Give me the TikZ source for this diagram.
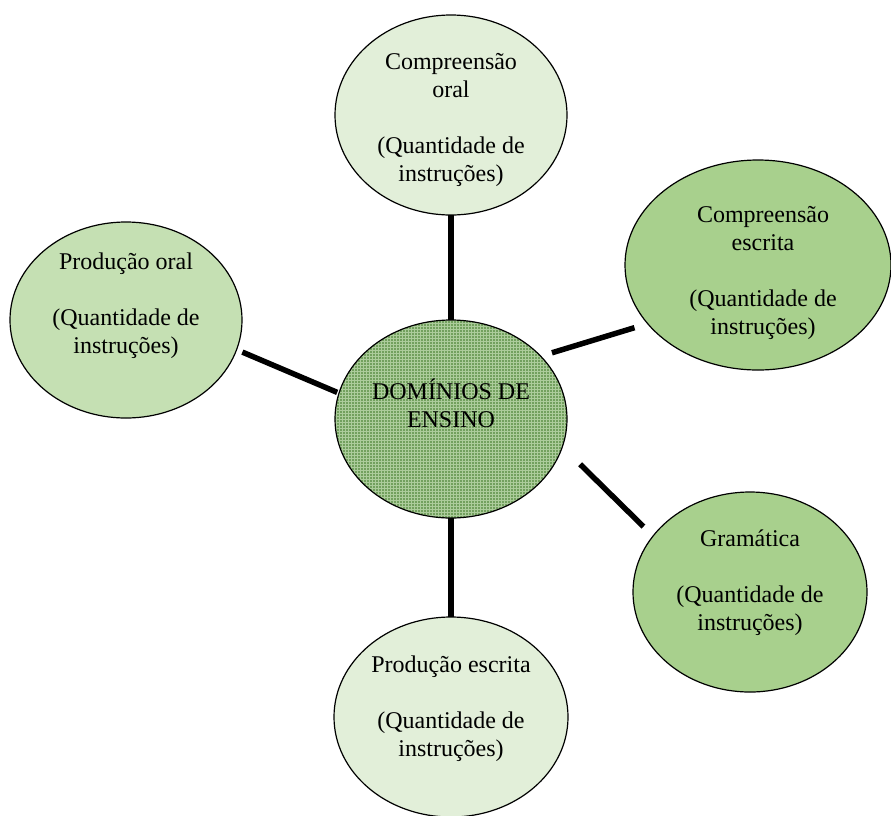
\documentclass[tikz,border=0pt]{standalone}
\usepackage{fontspec}
\setmainfont{Liberation Serif}
\usetikzlibrary{shapes.geometric,patterns}

\definecolor{palegreen}{RGB}{226,239,217}
\definecolor{softgreen}{RGB}{197,224,179}
\definecolor{midgreen}{RGB}{168,208,141}
\definecolor{hubgreen}{RGB}{114,160,94}
\definecolor{hubgrid}{RGB}{172,204,155}

\tikzset{
  bubble/.style={ellipse, draw=black, line width=1.2pt, inner sep=0pt, outer sep=0pt},
  hubbubble/.style={bubble, preaction={fill=hubgreen}, pattern=grid, pattern color=hubgrid},
  caption/.style={align=center, font=\fontsize{24}{28}\selectfont, inner sep=0pt},
  link/.style={line width=5.5pt, line cap=butt}
}

\begin{document}
\begin{tikzpicture}[x=1pt, y=-1pt]
  \useasboundingbox (0,0) rectangle (891,815);

  % ellipses
  \node[hubbubble, minimum width=232pt, minimum height=198pt] (c) at (451,419) {};
  \node[bubble, fill=palegreen, minimum width=232pt, minimum height=200pt] (co) at (451,115) {};
  \node[bubble, fill=midgreen, minimum width=266pt, minimum height=210pt] (ce) at (758,265) {};
  \node[bubble, fill=softgreen, minimum width=232pt, minimum height=196pt] (lo) at (126,320) {};
  \node[bubble, fill=midgreen, minimum width=234pt, minimum height=200pt] (gr) at (750,592) {};
  \node[bubble, fill=palegreen, minimum width=234pt, minimum height=200pt] (pe) at (451,717) {};

  % captions
  \node[caption] (c-t) at (451,403) {DOMÍNIOS DE\\ENSINO};
  \node[caption] (co-t) at (451,120) {Compreensão\\oral\\[28pt](Quantidade de\\instruções)};
  \node[caption] (ce-t) at (763,273) {Compreensão\\escrita\\[28pt](Quantidade de\\instruções)};
  \node[caption] (lo-t) at (126,306) {Produção oral\\[28pt](Quantidade de\\instruções)};
  \node[caption] (gr-t) at (750,583) {Gramática\\[28pt](Quantidade de\\instruções)};
  \node[caption] (pe-t) at (451,709) {Produção escrita\\[28pt](Quantidade de\\instruções)};

  % connectors
  \draw[link] (co.south) -- (c.north);
  \draw[link] (c.south) -- (pe.north);
  \draw[link, shorten <=11.8pt, shorten >=13.8pt] (c.35.7) -- (ce.208.4);
  \draw[link, shorten <=6.3pt, shorten >=2pt] (lo.-15.5) -- (c.167.3);
  \draw[link, shorten <=25pt, shorten >=13.5pt] (c.-14.4) -- (gr.150.3);
\end{tikzpicture}
\end{document}
